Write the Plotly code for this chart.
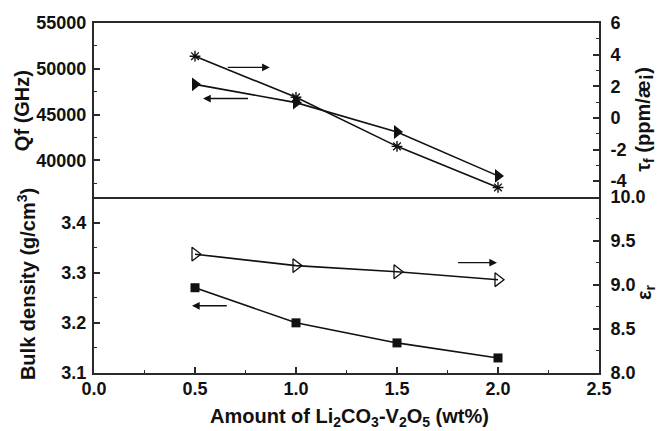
import plotly.graph_objects as go

# ---- data ----
amount = [0.5, 1.0, 1.5, 2.0]
qf = [48300, 46300, 43100, 38300]
tau_f = [3.9, 1.3, -1.8, -4.4]
density = [3.27, 3.20, 3.16, 3.13]
eps_r = [9.35, 9.22, 9.15, 9.06]

x_ticks = [0.0, 0.5, 1.0, 1.5, 2.0, 2.5]
x_tick_labels = ["0.0", "0.5", "1.0", "1.5", "2.0", "2.5"]
qf_ticks = [40000, 45000, 50000, 55000]
qf_tick_labels = ["40000", "45000", "50000", "55000"]
tau_ticks = [-4, -2, 0, 2, 4, 6]
tau_tick_labels = ["-4", "-2", "0", "2", "4", "6"]
dens_ticks = [3.1, 3.2, 3.3, 3.4]
dens_tick_labels = ["3.1", "3.2", "3.3", "3.4"]
eps_ticks = [8.0, 8.5, 9.0, 9.5, 10.0]
eps_tick_labels = ["8.0", "8.5", "9.0", "9.5", "10.0"]

FONT = "Liberation Sans, Arial, sans-serif"
BLACK = "#111111"
AX = "#2a2a2a"
split = 0.503

fig = go.Figure()

line = dict(color=BLACK, width=1.6)

# bottom panel
fig.add_trace(go.Scatter(x=amount, y=density, mode="lines+markers", xaxis="x", yaxis="y",
                         line=line, marker=dict(symbol="square", size=9, color=BLACK),
                         showlegend=False))
fig.add_trace(go.Scatter(x=amount, y=eps_r, mode="lines+markers", xaxis="x", yaxis="y2",
                         line=line,
                         marker=dict(symbol="triangle-right-open", size=12, color=BLACK,
                                     line=dict(width=1.3, color=BLACK)),
                         showlegend=False))
# top panel
fig.add_trace(go.Scatter(x=amount, y=qf, mode="lines+markers", xaxis="x2", yaxis="y3",
                         line=line, marker=dict(symbol="triangle-right", size=12, color=BLACK),
                         showlegend=False))
fig.add_trace(go.Scatter(x=amount, y=tau_f, mode="lines+markers", xaxis="x2", yaxis="y4",
                         line=line,
                         marker=dict(symbol="asterisk-open", size=9, color=BLACK,
                                     line=dict(width=1.4, color=BLACK)),
                         showlegend=False))

tickfont = dict(family=FONT, size=18, color=BLACK, weight="bold")
titlefont = dict(family=FONT, size=20, color=BLACK, weight="bold")

axis_common = dict(showline=True, linecolor=AX, linewidth=2, ticks="inside",
                   ticklen=6, tickwidth=1.5, tickcolor=AX, showgrid=False,
                   zeroline=False, tickfont=tickfont, automargin=False)
minor = dict(ticks="inside", ticklen=3, tickwidth=1.2, tickcolor=AX, showgrid=False)

fig.update_layout(
    width=660, height=431,
    margin=dict(l=94, r=61, t=23, b=58),
    paper_bgcolor="white", plot_bgcolor="white",
    font=dict(family=FONT, color=BLACK),
    xaxis=dict(domain=[0, 1], anchor="y", range=[0, 2.5], tickvals=x_ticks,
               ticktext=x_tick_labels, mirror=False,
               minor=dict(dtick=0.25, **minor), ticklabelstandoff=-2,
               **axis_common),
    xaxis2=dict(domain=[0, 1], anchor="y3", range=[0, 2.5], matches="x",
                showticklabels=False, mirror=True, showline=True, linecolor=AX,
                linewidth=2, ticks="", showgrid=False, zeroline=False, automargin=False),
    yaxis=dict(domain=[0, split], anchor="x", range=[3.1, 3.451],
               tickvals=dens_ticks, ticktext=dens_tick_labels,
               minor=dict(dtick=0.05, tick0=3.1, **minor), ticklabelstandoff=2,
               **axis_common),
    yaxis2=dict(overlaying="y", side="right", anchor="x", range=[8, 10],
                tickvals=eps_ticks, ticktext=eps_tick_labels,
                minor=dict(dtick=0.25, tick0=8, **minor), ticklabelstandoff=6,
                **axis_common),
    yaxis3=dict(domain=[split, 1], anchor="x2", range=[36000, 55000],
                tickvals=qf_ticks, ticktext=qf_tick_labels,
                minor=dict(tickvals=[37500, 42500, 47500, 52500], **minor), ticklabelstandoff=2,
                **axis_common),
    yaxis4=dict(overlaying="y3", side="right", anchor="x2", range=[-5, 6],
                tickvals=tau_ticks, ticktext=tau_tick_labels,
                minor=dict(tickvals=[-5, -3, -1, 1, 3, 5], **minor), ticklabelstandoff=6,
                **axis_common),
)

# axis titles as annotations (paper coordinates)
titles = [
    ("Qf (GHz)", -0.1426, 0.751, -90),
    ("Bulk density (g/cm<sup>3</sup>)", -0.1347, 0.254, -90),
    ("τ<sub>f</sub> (ppm/æ¡)", 1.091, 0.726, -90),
    ("ε<sub>r</sub>", 1.091, 0.231, -90),
    ("Amount of Li<sub>2</sub>CO<sub>3</sub>-V<sub>2</sub>O<sub>5</sub> (wt%)", 0.505, -0.128, 0),
]
for text, xp, yp, ang in titles:
    fig.add_annotation(text=text, x=xp, y=yp, xref="paper", yref="paper",
                       xanchor="center", yanchor="middle", textangle=ang,
                       showarrow=False, font=titlefont)

arrow = dict(text="", showarrow=True, arrowhead=2, arrowsize=1.1, arrowwidth=1.4,
             arrowcolor=BLACK)
# top panel arrows
fig.add_annotation(x=0.87, y=50150, ax=0.655, ay=50150, xref="x2", yref="y3",
                   axref="x2", ayref="y3", **arrow)
fig.add_annotation(x=0.54, y=46750, ax=0.77, ay=46750, xref="x2", yref="y3",
                   axref="x2", ayref="y3", **arrow)
# bottom panel arrows
fig.add_annotation(x=0.485, y=3.234, ax=0.665, ay=3.234, xref="x", yref="y",
                   axref="x", ayref="y", **arrow)
fig.add_annotation(x=1.995, y=3.32, ax=1.795, ay=3.32, xref="x", yref="y",
                   axref="x", ayref="y", **arrow)

fig.write_html("out.html", config={"displayModeBar": False},
               post_script="document.body.style.margin='0px';document.body.style.overflow='hidden';")
